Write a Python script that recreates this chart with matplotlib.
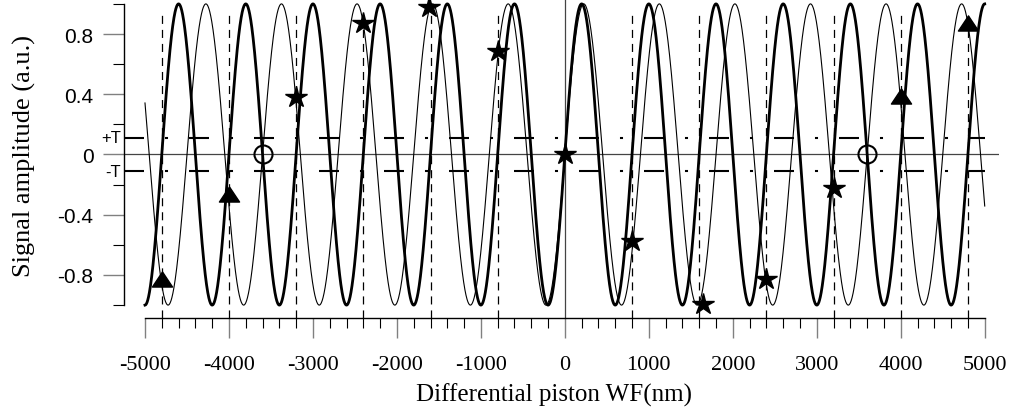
import numpy as np
import matplotlib
matplotlib.use("Agg")
import matplotlib.pyplot as plt
from matplotlib.path import Path

plt.rcParams['axes.unicode_minus'] = False
plt.rcParams['lines.scale_dashes'] = False

# ---- data ----
wavelength_thick_nm = 800.0
wavelength_thin_nm = 900.0
x_range_nm = [-5000, 5000]
threshold = 0.11

dashed_x = [-4800, -4000, -3200, -2400, -1600, -800, 800, 1600, 2400, 3200, 4000, 4800]

star_x = [-3200, -2400, -1620, -800, 0, 800, 1640, 2400, 3200]
star_y = [0.385, 0.87, 0.98, 0.69, 0.0, -0.575, -0.995, -0.83, -0.22]

tri_x = [-4800, -4000, 4000, 4800]
tri_y = [-0.83, -0.265, 0.39, 0.87]

circ_x = [-3600, 3600]
circ_y = [0.0, 0.0]

x_major = [-5000, -4000, -3000, -2000, -1000, 0, 1000, 2000, 3000, 4000, 5000]
y_major = [-0.8, -0.4, 0.0, 0.4, 0.8]
y_major_labels = ['-0.8', '-0.4', '0', '0.4', '0.8']

# ---- figure ----
fig = plt.figure(figsize=(10.10, 4.14), dpi=100)
ax = fig.add_axes([124/1010, (414-319)/414, 875/1010, 319/414])

x = np.linspace(x_range_nm[0], x_range_nm[1], 4001)
ax.plot(x, np.sin(2*np.pi*x/wavelength_thin_nm), color='black', lw=0.8, zorder=3)
ax.plot(x, np.sin(2*np.pi*x/wavelength_thick_nm), color='black', lw=2.0, zorder=3)

# zero lines
ax.axhline(0, color='#444444', lw=0.9, zorder=2)
ax.axvline(0, color='#444444', lw=0.9, zorder=2)

# threshold lines
for t in (threshold, -threshold):
    ax.plot([-5250, x_range_nm[1]], [t, t], color='black', lw=1.5,
            dashes=[14.4, 15.1, 2.2, 15.1], zorder=2, solid_capstyle='butt',
            dash_capstyle='butt')
ax.text(-5290, threshold, '+T', ha='right', va='center', fontsize=12,
        family='Liberation Sans', clip_on=False)
ax.text(-5290, -threshold, '-T', ha='right', va='center', fontsize=12,
        family='Liberation Sans', clip_on=False)

# vertical dashed lines
ax.vlines(dashed_x, -1.0857, 0.94, colors='black', lw=0.9,
          linestyles=(0, (5.8, 4.3)), zorder=2)

# markers
tri = Path([(0, 0.75), (-1, -0.75), (1, -0.75), (0, 0.75)],
           [Path.MOVETO, Path.LINETO, Path.LINETO, Path.CLOSEPOLY])
ax.plot(star_x, star_y, ls='none', marker='*', ms=16, color='black', zorder=5)
ax.plot(tri_x, tri_y, ls='none', marker=tri, ms=14.5, color='black', zorder=5)
ax.plot(circ_x, circ_y, ls='none', marker='o', ms=13, mfc='none', mec='black',
        mew=1.5, zorder=5)

ax.set_xlim(-5250, 5170)
ax.set_ylim(-1.0857, 1.0325)

for s in ('top', 'right'):
    ax.spines[s].set_visible(False)
ax.spines['left'].set_bounds(-1, 1)
ax.spines['bottom'].set_bounds(-5000, 5000)
ax.spines['left'].set_linewidth(1.0)
ax.spines['bottom'].set_linewidth(1.0)

ax.set_xticks(x_major)
ax.set_xticklabels([str(v) for v in x_major], family='Liberation Serif', fontsize=16)
ax.set_xticks(np.arange(-5000, 5001, 200), minor=True)
ax.set_yticks(y_major)
ax.set_yticklabels(y_major_labels, family='Liberation Sans', fontsize=15)
ax.set_yticks([-1.0, -0.6, -0.2, 0.2, 0.6, 1.0], minor=True)

ax.tick_params(axis='x', which='major', direction='out', length=14.4, width=1.0,
               color='#808080', pad=12.5)
ax.tick_params(axis='x', which='minor', direction='out', length=7.2, width=0.8,
               color='black')
ax.tick_params(axis='y', which='major', direction='out', length=15, width=1.0,
               color='#808080', pad=7)
ax.tick_params(axis='y', which='minor', direction='out', length=7.9, width=0.8,
               color='black')

fig.text(554/1010, (414-402)/414, 'Differential piston WF(nm)', ha='center',
         va='baseline', family='Liberation Serif', fontsize=18)
fig.text(24/1010, (414-156)/414, 'Signal amplitude (a.u.)', ha='center',
         va='center', rotation=90, family='Liberation Serif', fontsize=19)

fig.savefig('out.png', dpi=100)
